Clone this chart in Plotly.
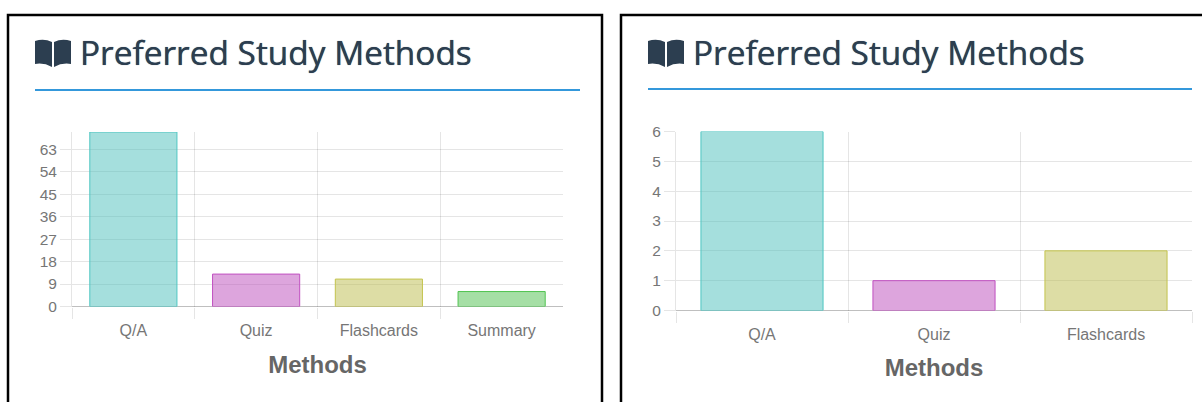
import plotly.graph_objects as go

W, H = 1202, 402
title_text = "Preferred Study Methods"
axis_title = "Methods"
cats_left = ["Q/A", "Quiz", "Flashcards", "Summary"]
vals_left = [70, 13, 11, 6]
ticks_left = [0, 9, 18, 27, 36, 45, 54, 63]
cats_right = ["Q/A", "Quiz", "Flashcards"]
vals_right = [6, 1, 2]
ticks_right = [0, 1, 2, 3, 4, 5, 6]
fills = ["rgba(75,192,188,0.5)", "rgba(188,75,188,0.5)", "rgba(188,188,75,0.5)", "rgba(75,192,75,0.5)"]
lines = ["#4fc6c2", "#c050c0", "#c4c44e", "#50c450"]

GRID = "rgba(0,0,0,0.1)"
TICKC = "#767676"
TITLEC = "#666666"
FONT = "Liberation Sans, Arial, sans-serif"

def fx(p): return p / W
def fy(p): return 1 - p / H

fig = go.Figure()
fig.add_bar(x=cats_left, y=vals_left, xaxis="x", yaxis="y", width=0.71,
            marker=dict(color=fills[:4], line=dict(color=lines[:4], width=1)))
fig.add_bar(x=cats_right, y=vals_right, xaxis="x2", yaxis="y2", width=0.71,
            marker=dict(color=fills[:3], line=dict(color=lines[:3], width=1)))

def xax(domain, anchor, label_off, title_off):
    return dict(domain=[fx(domain[0]), fx(domain[1])], anchor=anchor, tickson="boundaries", automargin=False,
                ticks="outside", ticklen=11, tickcolor=GRID, tickwidth=1, showgrid=True, gridcolor=GRID,
                showline=False, zeroline=False, ticklabelstandoff=label_off,
                tickfont=dict(family=FONT, size=16, color=TICKC),
                title=dict(text=f"<b>{axis_title}</b>", font=dict(family=FONT, size=24, color=TITLEC), standoff=title_off))

def yax(domain, anchor, ticks, top):
    return dict(domain=[fy(domain[1]), fy(domain[0])], anchor=anchor, range=[0, top], tickmode="array", tickvals=ticks,
                automargin=False, ticks="outside", ticklen=11, tickcolor=GRID, tickwidth=1, showgrid=True, gridcolor=GRID,
                showline=True, linecolor=GRID, linewidth=1, zeroline=True, zerolinecolor="rgba(0,0,0,0.25)", zerolinewidth=1,
                tickfont=dict(family=FONT, size=15.5, color=TICKC))

fig.update_layout(
    width=W, height=H, margin=dict(l=0, r=0, t=0, b=0), autosize=False,
    paper_bgcolor="white", plot_bgcolor="white", showlegend=False,
    xaxis=xax((72, 563), "y", 12, 18), yaxis=yax((132, 306.5), "x", ticks_left, 70),
    xaxis2=xax((676, 1192), "y2", 12, 17), yaxis2=yax((131.5, 310.5), "x2", ticks_right, 6),
)

def book(x0, y0, s=1.0):
    P = lambda x, y: f"{fx(x0 + x * s):.5f},{fy(y0 + y * s):.5f}"
    left = f"M{P(0,2.5)} Q{P(9,-0.5)} {P(17,3.5)} L{P(17,28.5)} Q{P(9,24)} {P(0,25.5)} Z"
    right = f"M{P(19,3.5)} Q{P(27,-0.5)} {P(36,2.5)} L{P(36,25.5)} Q{P(27,24)} {P(19,28.5)} Z"
    return left + " " + right

shapes = []
for x0, x1 in [(8, 602), (621, 1210)]:
    shapes.append(dict(type="path", xref="paper", yref="paper",
                       path=f"M{fx(x0)},{fy(420)} L{fx(x0)},{fy(15)} L{fx(x1)},{fy(15)} L{fx(x1)},{fy(420)}",
                       line=dict(color="black", width=2.5)))
for x0, x1, y in [(35, 580, 90), (648, 1192, 89)]:
    shapes.append(dict(type="line", xref="paper", yref="paper", x0=fx(x0), x1=fx(x1), y0=fy(y), y1=fy(y),
                       line=dict(color="#3498db", width=2)))
for x0, y0 in [(35, 38.5), (648, 38.5)]:
    shapes.append(dict(type="path", xref="paper", yref="paper", path=book(x0, y0),
                       fillcolor="#2c3e50", line=dict(width=0)))
fig.update_layout(shapes=shapes)

for x0, y0 in [(77.5, 52.5), (690.5, 52.5)]:
    fig.add_annotation(xref="paper", yref="paper", x=fx(x0), y=fy(y0), xanchor="left", yanchor="middle", showarrow=False,
                       text=title_text, font=dict(family="Open Sans", size=33.4, color="#2c3e50",
                                                  shadow="0 0 0.7px #2c3e50"))

fig.write_html("out.html", config={"displayModeBar": False},
               post_script="document.body.style.margin='0';document.body.style.overflow='hidden';")
